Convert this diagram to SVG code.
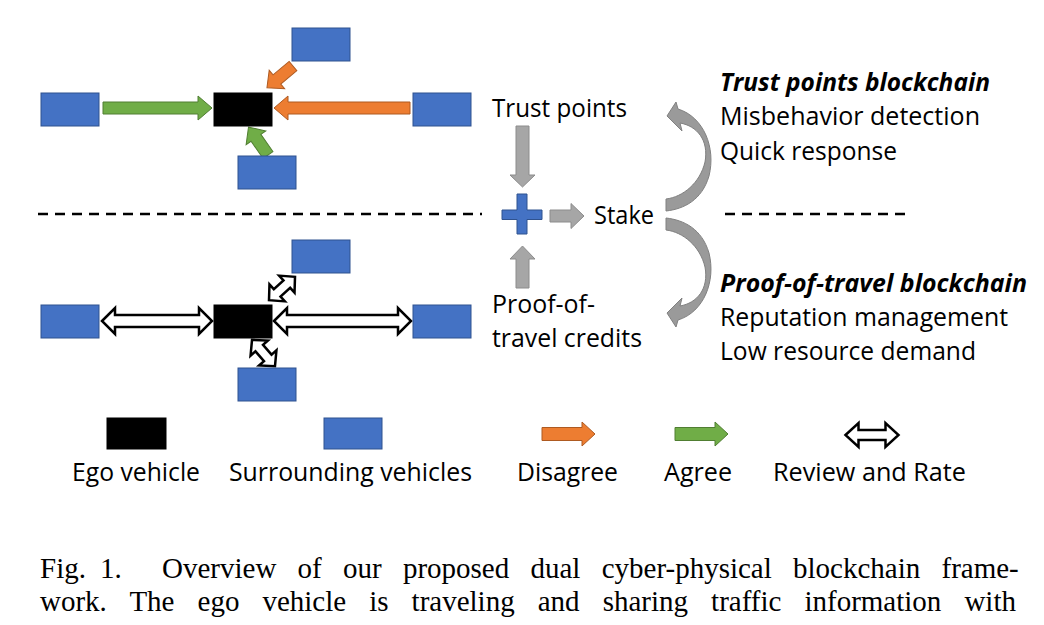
<svg xmlns="http://www.w3.org/2000/svg" width="1044" height="625" viewBox="0 0 1044 625">
<style>
.sv{fill:#4472C4;stroke:#2F528F;stroke-width:1}
.ego{fill:#000;stroke:#000;stroke-width:1}
.grn{fill:#70AD47;stroke:#507E32;stroke-width:1}
.org{fill:#ED7D31;stroke:#AE5A21;stroke-width:1}
.wht{fill:#fff;stroke:#000;stroke-width:2.5;stroke-linejoin:miter}
.gry{fill:#A6A6A6;stroke:#8C8C8C;stroke-width:1}
.crv{fill:#9A9A9A;stroke:#808080;stroke-width:1}
.dash{stroke:#000;stroke-width:2.5;stroke-dasharray:10 7;fill:none}
.t{font-family:"Open Sans","Noto Sans",sans-serif;font-size:25px;fill:#000}
.bi{font-weight:bold;font-style:italic}
.cap{font-family:"Liberation Serif","Times New Roman",serif;font-size:29px;fill:#000}
</style>
<defs>
<path id="dbl" d="M-17.5,0 L-6.5,-11.5 V-5 H6.5 V-11.5 L17.5,0 L6.5,11.5 V5 H-6.5 V11.5 Z"/>
</defs>

<g id="connectors">
  <!-- top scene -->
  <path class="grn" transform="translate(103,108)" d="M0,-6 H95 V-12 L109,0 L95,12 V6 H0 Z"/>
  <path class="org" transform="translate(410,108) rotate(180)" d="M0,-6 H122 V-12 L136,0 L122,12 V6 H0 Z"/>
  <path class="org" transform="translate(293,66) rotate(140)" d="M0,-6 H21 V-12 L34,0 L21,12 V6 H0 Z"/>
  <path class="grn" transform="translate(268,155) rotate(-125)" d="M0,-6 H21 V-12 L34,0 L21,12 V6 H0 Z"/>
  <!-- bottom scene -->
  <path class="wht" transform="translate(157,321)" d="M-55,0 L-42,-13 V-6 H42 V-13 L55,0 L42,13 V6 H-42 V13 Z"/>
  <path class="wht" transform="translate(342.5,321)" d="M-68.5,0 L-55.5,-13 V-6 H55.5 V-13 L68.5,0 L55.5,13 V6 H-55.5 V13 Z"/>
  <use href="#dbl" class="wht" transform="translate(282,288.5) rotate(-42)"/>
  <use href="#dbl" class="wht" transform="translate(263.5,353) rotate(49)"/>
  <!-- stake arrows -->
  <path class="gry" transform="translate(522.5,126) rotate(90)" d="M0,-6.5 H49 V-12.5 L61,0 L49,12.5 V6.5 H0 Z"/>
  <path class="gry" transform="translate(522.5,288) rotate(-90)" d="M0,-6.5 H29 V-12.5 L42,0 L29,12.5 V6.5 H0 Z"/>
  <path class="gry" transform="translate(550,216)" d="M0,-6 H21 V-12.5 L34,0 L21,12.5 V6 H0 Z"/>
  <!-- curved arrows -->
  <path id="curve-top" class="crv" d="M678,109 C704,117 716,148 709,176 C702,200 684,209 666,211 L666,199 C683,197 700,183 705,162 C709,140 697,126 680,123 L682,131 L667,116 L676,102 Z"/>
  <path id="curve-bottom" class="crv" transform="translate(0,429) scale(1,-1)" d="M678,109 C704,117 716,148 709,176 C702,200 684,209 666,211 L666,199 C683,197 700,183 705,162 C709,140 697,126 680,123 L682,131 L667,116 L676,102 Z"/>
  <!-- dashed separators -->
  <line class="dash" x1="38" y1="214" x2="482" y2="214"/>
  <line class="dash" x1="725" y1="214" x2="905" y2="214"/>
</g>

<g id="top-scene">
  <g id="ego-top"><rect class="ego" x="214" y="93" width="58" height="33"/></g>
  <g id="sv-top-up"><rect class="sv" x="292" y="28" width="58" height="33"/></g>
  <g id="sv-top-left"><rect class="sv" x="41" y="93" width="58" height="33"/></g>
  <g id="sv-top-right"><rect class="sv" x="413" y="93" width="58" height="33"/></g>
  <g id="sv-top-down"><rect class="sv" x="238" y="156" width="58" height="33"/></g>
</g>

<g id="bottom-scene">
  <g id="ego-bottom"><rect class="ego" x="214" y="305" width="58" height="33"/></g>
  <g id="sv-bot-up"><rect class="sv" x="292" y="240" width="58" height="33"/></g>
  <g id="sv-bot-left"><rect class="sv" x="41" y="305" width="58" height="33"/></g>
  <g id="sv-bot-right"><rect class="sv" x="413" y="305" width="58" height="33"/></g>
  <g id="sv-bot-down"><rect class="sv" x="238" y="368" width="58" height="33"/></g>
</g>

<g id="plus"><path class="sv" d="M517,194 H527 V210 H542 V219.5 H527 V234 H517 V219.5 H502 V210 H517 Z"/></g>

<g id="trust-points"><text class="t" x="492" y="117" textLength="135" lengthAdjust="spacingAndGlyphs">Trust points</text></g>
<g id="stake"><text class="t" x="594" y="224" textLength="60" lengthAdjust="spacingAndGlyphs">Stake</text></g>
<g id="pot-credits">
  <text class="t" x="492" y="313" textLength="103" lengthAdjust="spacingAndGlyphs">Proof-of-</text>
  <text class="t" x="492" y="347" textLength="150" lengthAdjust="spacingAndGlyphs">travel credits</text>
</g>

<g id="trust-chain">
  <text class="t bi" x="720" y="91" textLength="270" lengthAdjust="spacingAndGlyphs">Trust points blockchain</text>
  <text class="t" x="720" y="125" textLength="260" lengthAdjust="spacingAndGlyphs">Misbehavior detection</text>
  <text class="t" x="720" y="160" textLength="177" lengthAdjust="spacingAndGlyphs">Quick response</text>
</g>
<g id="pot-chain">
  <text class="t bi" x="720" y="292" textLength="307" lengthAdjust="spacingAndGlyphs">Proof-of-travel blockchain</text>
  <text class="t" x="720" y="326" textLength="288" lengthAdjust="spacingAndGlyphs">Reputation management</text>
  <text class="t" x="720" y="360" textLength="256" lengthAdjust="spacingAndGlyphs">Low resource demand</text>
</g>

<g id="legend">
  <g id="legend-ego">
    <rect class="ego" x="107" y="418" width="59" height="31"/>
    <text class="t" x="72" y="481" textLength="128" lengthAdjust="spacingAndGlyphs">Ego vehicle</text>
  </g>
  <g id="legend-sv">
    <rect class="sv" x="324" y="418" width="58" height="31"/>
    <text class="t" x="229" y="481" textLength="243" lengthAdjust="spacingAndGlyphs">Surrounding vehicles</text>
  </g>
  <g id="legend-disagree">
    <path class="org" transform="translate(542,434)" d="M0,-6.5 H40 V-12 L53,0 L40,12 V6.5 H0 Z"/>
    <text class="t" x="517" y="481" textLength="101" lengthAdjust="spacingAndGlyphs">Disagree</text>
  </g>
  <g id="legend-agree">
    <path class="grn" transform="translate(675,434)" d="M0,-6.5 H40 V-12 L53,0 L40,12 V6.5 H0 Z"/>
    <text class="t" x="664" y="481" textLength="68" lengthAdjust="spacingAndGlyphs">Agree</text>
  </g>
  <g id="legend-review">
    <path class="wht" transform="translate(872,435)" d="M-26.5,0 L-13.5,-12 V-5 H13.5 V-12 L26.5,0 L13.5,12 V5 H-13.5 V12 Z"/>
    <text class="t" x="773" y="481" textLength="193" lengthAdjust="spacingAndGlyphs">Review and Rate</text>
  </g>
</g>

<g id="caption">
  <text class="cap" y="578"><tspan x="40">Fig.</tspan><tspan x="100">1.</tspan><tspan x="162" word-spacing="14">Overview of our proposed dual cyber-physical blockchain frame-</tspan></text>
  <text class="cap" x="40" y="611" word-spacing="15.8">work. The ego vehicle is traveling and sharing traffic information with</text>
</g>
</svg>
